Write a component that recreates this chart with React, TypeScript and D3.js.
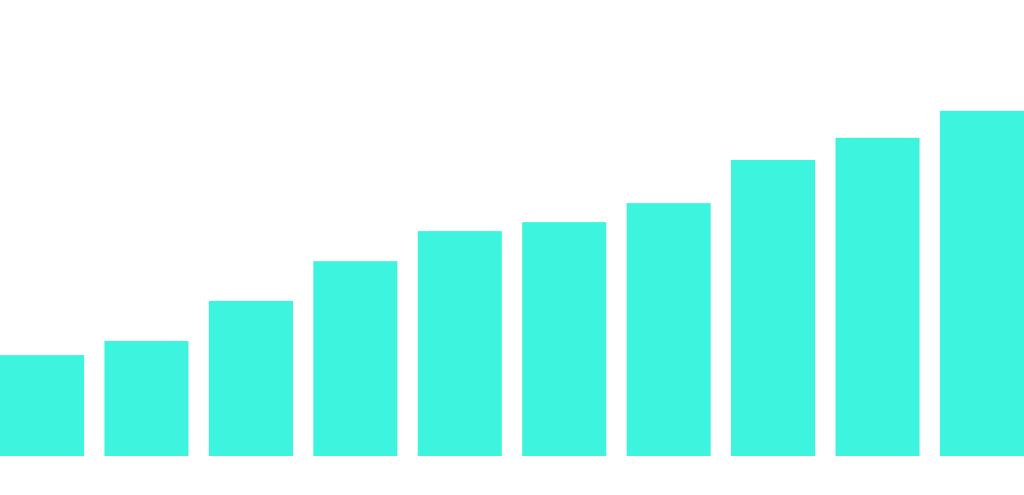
import * as d3 from "d3";

const categories = ["A", "B", "C", "D", "E", "F", "G", "H", "I", "J"];
const values = [29.2, 33.3, 44.9, 56.4, 65.1, 67.7, 73.2, 85.7, 92.1, 99.9];

const WIDTH = 1024;
const HEIGHT = 495;
const BASE = 456;

export default function App() {
  const x = d3
    .scaleBand<string>()
    .domain(categories)
    .range([0, WIDTH])
    .paddingInner(0.195)
    .paddingOuter(0);

  const y = d3.scaleLinear().domain([0, 132]).range([BASE, 0]);

  return (
    <svg
      width={WIDTH}
      height={HEIGHT}
      style={{ position: "fixed", left: 0, top: 0, background: "#ffffff" }}
    >
      {categories.map((c, i) => (
        <rect
          key={c}
          x={x(c)}
          y={y(values[i])}
          width={x.bandwidth()}
          height={BASE - y(values[i])}
          fill="#3df5de"
        />
      ))}
    </svg>
  );
}
